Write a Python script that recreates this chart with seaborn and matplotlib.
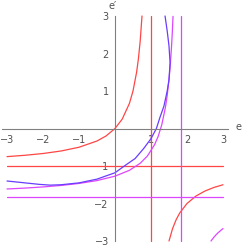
import seaborn as sns
import matplotlib.pyplot as plt
import pandas as pd

# values
red_left_e = [-3, -2.5, -2, -1.5, -1, -0.5, -0.25, 0, 0.2, 0.4, 0.5, 0.6, 0.65, 0.7, 0.75]
red_left_ep = [-0.75, -0.714, -0.667, -0.6, -0.5, -0.333, -0.2, 0, 0.25, 0.667, 1.0, 1.5, 1.857, 2.333, 3.0]
red_right_e = [1.5, 1.6, 1.7, 1.8, 2.0, 2.25, 2.5, 2.75, 3]
red_right_ep = [-3.0, -2.667, -2.429, -2.25, -2.0, -1.8, -1.667, -1.571, -1.5]

mag_left_e = [-3, -2.5, -2, -1.5, -1, -0.5, 0, 0.4, 0.7, 0.9, 1.1, 1.2, 1.3, 1.4, 1.45, 1.5, 1.54, 1.57, 1.59, 1.612]
mag_left_ep = [-1.613, -1.589, -1.558, -1.519, -1.465, -1.389, -1.271, -1.116, -0.927, -0.733, -0.431,
               -0.207, 0.103, 0.561, 0.883, 1.305, 1.751, 2.18, 2.528, 2.99]
mag_right_e = [2.667, 2.75, 2.85, 3]
mag_right_ep = [-3.0, -2.895, -2.791, -2.667]

blue_e = [-3, -2.5, -2.1, -1.8, -1.5, -1.0, -0.5, 0, 0.26, 0.56, 0.8, 1.0, 1.15, 1.25, 1.36, 1.45, 1.50, 1.53, 1.50, 1.45, 1.39]
blue_ep = [-1.40, -1.45, -1.49, -1.51, -1.50, -1.45, -1.35, -1.18, -1.0, -0.8, -0.53, -0.27, 0.0, 0.3, 0.6,
           1.0, 1.3, 1.75, 2.2, 2.6, 3.0]

red_pole = 1.0
red_level = -1.0
mag_pole = 1.82
mag_level = -1.82
span = [-3, 3]

major_ticks = [-3, -2, -1, 1, 2, 3]

RED = '#ff4646'
MAG = '#dc46ff'
BLUE = '#6a3cff'


def draw(ax, xs, ys, color):
    df = pd.DataFrame({'e': xs, 'ep': ys})
    sns.lineplot(data=df, x='e', y='ep', ax=ax, sort=False, estimator=None,
                 color=color, linewidth=0.9)


def main():
    sns.set_theme(style='white')
    plt.rcParams['font.family'] = ['DejaVu Sans']
    fig = plt.figure(figsize=(2.46, 2.46), dpi=100)
    ax = fig.add_axes([0, 0, 1, 1])
    ax.set_facecolor('white')

    draw(ax, red_left_e, red_left_ep, RED)
    draw(ax, red_right_e, red_right_ep, RED)
    draw(ax, [red_pole, red_pole], span, RED)
    draw(ax, span, [red_level, red_level], RED)
    draw(ax, mag_left_e, mag_left_ep, MAG)
    draw(ax, mag_right_e, mag_right_ep, MAG)
    draw(ax, [mag_pole, mag_pole], span, MAG)
    draw(ax, span, [mag_level, mag_level], MAG)
    draw(ax, blue_e, blue_ep, BLUE)

    # pixel layout: origin at (115, 128.5), 36 px per unit in x, 37.5 in y
    ax.set_xlim(-115 / 36, (246 - 115) / 36)
    ax.set_ylim(-(246 - 128.5) / 37.5, 128.5 / 37.5)

    for s in ['top', 'right']:
        ax.spines[s].set_visible(False)
    for s in ['left', 'bottom']:
        ax.spines[s].set_position(('data', 0))
        ax.spines[s].set_color('#808080')
        ax.spines[s].set_linewidth(0.8)
    ax.spines['bottom'].set_bounds(-3.15, 3.15)
    ax.spines['left'].set_bounds(-3, 3)

    ax.set_xticks(major_ticks)
    ax.set_yticks(major_ticks)
    ax.set_xticks([i / 5 for i in range(-15, 16) if i % 5], minor=True)
    ax.set_yticks([i / 5 for i in range(-15, 16) if i % 5], minor=True)
    ax.set_xticklabels([str(t).replace('-', '\u2212') for t in major_ticks])
    ax.set_yticklabels([str(t).replace('-', '\u2212') for t in major_ticks])
    ax.tick_params(which='major', direction='out', length=3, width=0.6, color='#808080',
                   labelsize=7, labelcolor='#505050', pad=1.5)
    ax.tick_params(which='minor', direction='out', length=1.5, width=0.5, color='#808080')
    ax.set_xlabel('')
    ax.set_ylabel('')

    fig.text(238 / 246, 1 - 127 / 246, 'e', fontsize=7, color='#505050', ha='center', va='center')
    fig.text(113 / 246, 1 - 6 / 246, 'e\u2032', fontsize=7, color='#505050', ha='center', va='center')

    fig.savefig('out.png', dpi=100, facecolor='white')


if __name__ == "__main__":
    main()
